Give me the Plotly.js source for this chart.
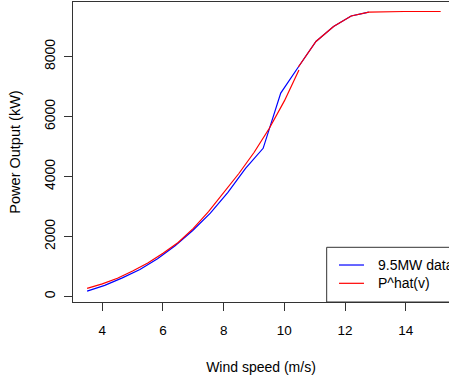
<!DOCTYPE html>
<html>
<head>
<meta charset="utf-8">
<script src="https://cdn.plot.ly/plotly-3.0.1.min.js"></script>
<style>
  html, body { margin: 0; padding: 0; background: #fff; }
  #chart { width: 449px; height: 382px; }
</style>
</head>
<body>
<div id="chart"></div>
<script>
// Observed power curve (9.5MW turbine data)
const dataSpeed = [3.5, 4.08, 4.66, 5.24, 5.82, 6.4, 6.98, 7.56, 8.14, 8.72, 9.3, 9.88, 10.46, 11.04, 11.62, 12.2, 12.78];
const dataPower = [180, 370, 620, 900, 1260, 1690, 2200, 2780, 3470, 4270, 4940, 6780, 7650, 8500, 9000, 9350, 9480];

// Fitted curve P^hat(v), lower part
const fitSpeed = [3.5, 4.0, 4.5, 5.0, 5.5, 6.0, 6.5, 7.0, 7.5, 8.0, 8.5, 9.0, 9.5, 10.0, 10.48];
const fitPower = [270, 420, 610, 850, 1120, 1440, 1800, 2270, 2830, 3470, 4100, 4800, 5600, 6520, 7550];

// Fitted curve P^hat(v), upper part
const fitSpeed2 = [10.46, 11.04, 11.62, 12.2, 12.78, 13.36, 13.94, 14.52, 15.15];
const fitPower2 = [7650, 8500, 9000, 9350, 9480, 9500, 9500, 9500, 9500];

const xTicks = [4, 6, 8, 10, 12, 14];
const yTicks = [0, 2000, 4000, 6000, 8000];
const legendNames = ['9.5MW data', 'P^hat(v)'];
const legendColors = ['#0000FF', '#FF0000'];

const fam = 'Liberation Sans, Arial, sans-serif';

const traces = [
  {x: dataSpeed, y: dataPower, type: 'scatter', mode: 'lines', name: legendNames[0],
   line: {color: legendColors[0], width: 1.2}},
  {x: fitSpeed, y: fitPower, type: 'scatter', mode: 'lines', name: legendNames[1],
   line: {color: legendColors[1], width: 1.2}},
  {x: fitSpeed2, y: fitPower2, type: 'scatter', mode: 'lines', name: legendNames[1],
   line: {color: legendColors[1], width: 1.2}}
];

// R-style legend box in the bottom-right corner (extends past the right edge)
const lgX0 = 0.6747, lgY1 = 0.1823;
const rowY = [0.1233, 0.0623];
const shapes = [
  {type: 'rect', xref: 'paper', yref: 'paper', x0: lgX0, x1: 1.1, y0: 0, y1: lgY1,
   line: {color: '#333', width: 1}, fillcolor: '#fff', layer: 'above'}
];
const annotations = [];
legendNames.forEach((n, i) => {
  shapes.push({type: 'line', xref: 'paper', yref: 'paper', x0: 0.7074, x1: 0.7739,
               y0: rowY[i], y1: rowY[i], line: {color: legendColors[i], width: 1.2}, layer: 'above'});
  annotations.push({xref: 'paper', yref: 'paper', x: 0.8059, y: rowY[i], text: n,
                    showarrow: false, xanchor: 'left', yanchor: 'middle',
                    font: {family: fam, size: 14, color: '#000'}});
});

const layout = {
  width: 449, height: 382,
  margin: {l: 73, r: 0, t: 2, b: 80, pad: 0},
  paper_bgcolor: '#fff', plot_bgcolor: '#fff',
  font: {family: fam, size: 13, color: '#000'},
  showlegend: false,
  shapes: shapes,
  annotations: annotations,
  xaxis: {
    range: [3.035, 15.424], tickvals: xTicks, ticktext: xTicks.map(String),
    showgrid: false, zeroline: false, showline: true, mirror: true,
    linecolor: '#333', linewidth: 1, ticks: 'outside', ticklen: 8, tickwidth: 1, tickcolor: '#333',
    tickfont: {family: fam, size: 13.5, color: '#000'},
    ticklabelstandoff: 8,
    title: {text: 'Wind speed (m/s)', standoff: 24,
            font: {family: fam, size: 14, color: '#000'}},
    automargin: false, fixedrange: true
  },
  yaxis: {
    range: [-183, 9817], tickvals: yTicks, ticktext: yTicks.map(String),
    showgrid: false, zeroline: false, showline: true, mirror: false,
    linecolor: '#333', linewidth: 1, ticks: 'outside', ticklen: 8, tickwidth: 1, tickcolor: '#333',
    tickangle: -90,
    tickfont: {family: fam, size: 14, color: '#000'},
    ticklabelstandoff: 3,
    title: {text: 'Power Output (kW)', standoff: 18,
            font: {family: fam, size: 14.5, color: '#000'}},
    automargin: false, fixedrange: true
  }
};

Plotly.newPlot('chart', traces, layout, {displayModeBar: false, staticPlot: true});
</script>
</body>
</html>
